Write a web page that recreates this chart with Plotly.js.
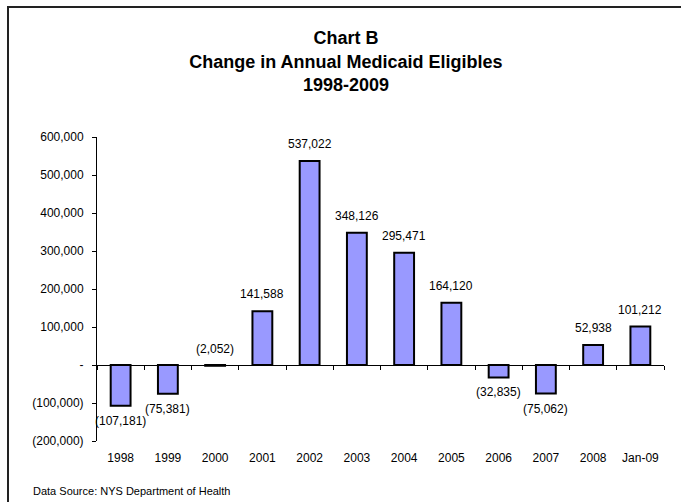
<!DOCTYPE html>
<html>
<head>
<meta charset="utf-8">
<script src="https://cdn.plot.ly/plotly-3.0.1.min.js"></script>
<style>
  html, body { margin: 0; padding: 0; background: #fff; }
  #wrap { position: relative; width: 681px; height: 502px; overflow: hidden; }
  #chart { position: absolute; left: 0; top: 0; width: 681px; height: 502px; }
  #frame { position: absolute; left: 7px; top: 6px; right: -10px; bottom: -10px;
           border-top: 2px solid #222; border-left: 2px solid #222; pointer-events: none; }
</style>
</head>
<body>
<div id="wrap">
  <div id="chart"></div>
  <div id="frame"></div>
</div>
<script>
const categories = ["1998","1999","2000","2001","2002","2003","2004","2005","2006","2007","2008","Jan-09"];
const changeValues = [-107181, -75381, -2052, 141588, 537022, 348126, 295471, 164120, -32835, -75062, 52938, 101212];
const yTickValues = [-200000, -100000, 0, 100000, 200000, 300000, 400000, 500000, 600000];
const yTickLabels = ["(200,000)", "(100,000)", "-", "100,000", "200,000", "300,000", "400,000", "500,000", "600,000"];
const titleLines = ["Chart B", "Change in Annual Medicaid Eligibles", "1998-2009"];
const sourceNote = "Data Source: NYS Department of Health";

const FONT = "Arial, 'Liberation Sans', sans-serif";
const yMin = -200000, yMax = 600000;

function fmt(v) {
  const s = Math.abs(v).toLocaleString('en-US');
  return v < 0 ? "(" + s + ")" : s;
}

const annotations = categories.map((c, i) => {
  const v = changeValues[i];
  const above = v > -5000;
  return {
    x: i, y: v, xref: 'x', yref: 'y',
    text: fmt(v), showarrow: false,
    yanchor: 'middle', xanchor: 'center',
    yshift: above ? 17 : -15,
    font: {family: FONT, size: 12, color: '#000'}
  };
});
annotations.push({
  xref: 'paper', yref: 'paper', x: -0.117, y: -0.165,
  xanchor: 'left', yanchor: 'middle', showarrow: false,
  text: sourceNote, font: {family: FONT, size: 11, color: '#000'}
});

const data = [
  {
    type: 'bar', x: categories, y: changeValues,
    marker: {color: '#9999FF', line: {color: '#000', width: 2}},
    hoverinfo: 'skip', xaxis: 'x', yaxis: 'y'
  },
  {
    type: 'scatter', mode: 'markers', x: categories, y: changeValues,
    marker: {opacity: 0}, hoverinfo: 'skip', xaxis: 'x2', yaxis: 'y', showlegend: false
  }
];

const layout = {
  width: 681, height: 502,
  margin: {l: 97, r: 17, t: 137, b: 61},
  paper_bgcolor: '#fff', plot_bgcolor: 'rgba(0,0,0,0)',
  showlegend: false,
  bargap: 0.58,
  font: {family: FONT, size: 12, color: '#000'},
  title: {
    text: '<b>' + titleLines.join('<br>') + '</b>',
    x: 0.508, xref: 'container', xanchor: 'center',
    y: 0.912, yref: 'container', yanchor: 'top',
    font: {family: FONT, size: 18, color: '#000'}
  },
  xaxis: {
    type: 'category', range: [-0.5, 11.5],
    showline: false, showgrid: false, zeroline: false,
    ticks: '', ticklabelstandoff: 8,
    tickfont: {family: FONT, size: 12, color: '#000'},
    fixedrange: true
  },
  xaxis2: {
    type: 'category', range: [-0.5, 11.5],
    overlaying: 'x', anchor: 'free',
    position: (0 - yMin) / (yMax - yMin),
    side: 'bottom',
    showline: true, linecolor: '#000', linewidth: 1,
    ticks: 'outside', tickson: 'boundaries', ticklen: 4, tickcolor: '#000', tickwidth: 1,
    showticklabels: false, showgrid: false, zeroline: false,
    fixedrange: true
  },
  yaxis: {
    range: [yMin, yMax],
    tickvals: yTickValues, ticktext: yTickLabels,
    showline: true, linecolor: '#000', linewidth: 1,
    ticks: 'outside', ticklen: 4, tickcolor: '#000', tickwidth: 1,
    ticklabelstandoff: 6,
    showgrid: false, zeroline: false,
    tickfont: {family: FONT, size: 12, color: '#000'},
    fixedrange: true
  },
  annotations: annotations
};

Plotly.newPlot('chart', data, layout, {displayModeBar: false, staticPlot: true});
</script>
</body>
</html>
